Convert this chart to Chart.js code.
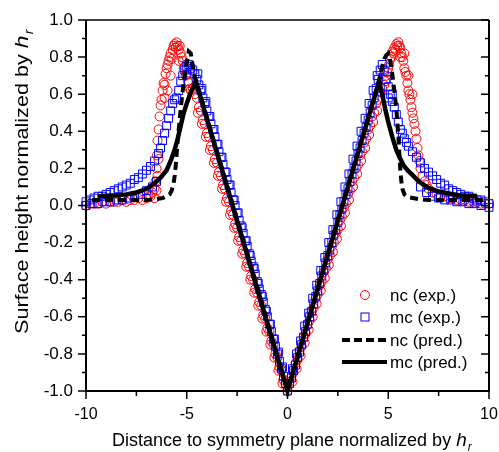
<!DOCTYPE html>
<html>
<head>
<meta charset="utf-8">
<script src="https://cdn.jsdelivr.net/npm/chart.js@4.4.1/dist/chart.umd.min.js"></script>
<style>
  html, body { margin: 0; padding: 0; background: #fff; }
  #wrap { width: 499px; height: 452px; }
</style>
</head>
<body>
<div id="wrap"><canvas id="chart"></canvas></div>
<script>
// axis ticks
const xTicks = [-10, -5, 0, 5, 10];
const yTicks = [-1.0, -0.8, -0.6, -0.4, -0.2, 0.0, 0.2, 0.4, 0.6, 0.8, 1.0];

// nc (exp.) - red circles, [x, y]
const ncExp = [
  [-10.0,0.00],[-9.8,0.01],[-9.6,0.01],[-9.4,0.01],[-9.2,0.02],[-9.0,0.01],[-8.8,0.02],[-8.6,0.02],[-8.4,0.02],[-8.2,0.03],
  [-8.0,0.02],[-7.8,0.03],[-7.6,0.03],[-7.4,0.04],[-7.2,0.03],[-7.0,0.04],[-6.9,0.05],[-6.8,0.05],[-6.7,0.07],[-6.6,0.09],
  [-6.6,0.04],[-6.55,0.13],[-6.5,0.08],[-6.5,0.20],[-6.48,0.27],[-6.45,0.16],[-6.45,0.35],[-6.4,0.25],[-6.4,0.41],[-6.35,0.48],
  [-6.3,0.54],[-6.25,0.57],[-6.2,0.62],[-6.15,0.66],[-6.1,0.58],[-6.1,0.65],[-6.05,0.71],[-6.0,0.74],[-5.95,0.76],[-5.95,0.62],
  [-5.9,0.78],[-5.85,0.80],[-5.8,0.82],[-5.8,0.70],[-5.75,0.79],[-5.7,0.84],[-5.65,0.86],[-5.6,0.87],[-5.55,0.85],[-5.5,0.88],
  [-5.45,0.86],[-5.4,0.84],[-5.4,0.78],[-5.35,0.86],[-5.3,0.82],[-5.25,0.80],[-5.2,0.78],[-5.15,0.74],[-5.1,0.75],[-5.05,0.70],
  [-5.0,0.71],[-4.95,0.67],[-4.9,0.66],[-4.85,0.63],[-4.8,0.62],
  [-4.7,0.63],[-4.6,0.60],[-4.5,0.58],[-4.4,0.53],[-4.3,0.51],[-4.2,0.46],[-4.1,0.44],[-4.0,0.39],[-3.9,0.37],[-3.8,0.32],
  [-3.7,0.30],[-3.6,0.25],[-3.5,0.23],[-3.4,0.18],[-3.3,0.16],[-3.2,0.11],[-3.1,0.09],[-3.0,0.04],[-2.9,0.02],[-2.8,-0.03],
  [-2.7,-0.05],[-2.6,-0.10],[-2.5,-0.12],[-2.4,-0.17],[-2.3,-0.19],[-2.2,-0.24],[-2.1,-0.26],[-2.0,-0.31],[-1.9,-0.33],[-1.8,-0.38],
  [-1.7,-0.40],[-1.6,-0.45],[-1.5,-0.47],[-1.4,-0.52],[-1.3,-0.54],[-1.2,-0.59],[-1.1,-0.61],[-1.0,-0.66],[-0.9,-0.68],[-0.8,-0.73],
  [-0.7,-0.75],[-0.6,-0.80],[-0.5,-0.82],[-0.4,-0.87],[-0.3,-0.89],[-0.2,-0.94],[-0.1,-0.96],[0.0,-1.00],
  [-4.45,0.50],[-4.25,0.44],[-4.05,0.37],[-3.85,0.30],[-3.65,0.23],[-3.45,0.16],[-3.25,0.09],[-3.05,0.02],[-2.85,-0.05],[-2.65,-0.12],
  [-2.45,-0.19],[-2.25,-0.26],[-2.05,-0.33],[-1.85,-0.40],[-1.65,-0.47],[-1.45,-0.54],[-1.25,-0.61],[-1.05,-0.68],[-0.85,-0.75],[-0.65,-0.82],
  [-0.45,-0.89],[-0.25,-0.96],
  [0.1,-0.95],[0.2,-0.92],[0.3,-0.90],[0.4,-0.85],[0.5,-0.83],[0.6,-0.78],[0.7,-0.76],[0.8,-0.71],[0.9,-0.69],[1.0,-0.64],
  [1.1,-0.62],[1.2,-0.57],[1.3,-0.55],[1.4,-0.50],[1.5,-0.48],[1.6,-0.43],[1.7,-0.41],[1.8,-0.36],[1.9,-0.34],[2.0,-0.29],
  [2.1,-0.27],[2.2,-0.22],[2.3,-0.20],[2.4,-0.15],[2.5,-0.13],[2.6,-0.08],[2.7,-0.06],[2.8,-0.01],[2.9,0.01],[3.0,0.06],
  [3.1,0.08],[3.2,0.13],[3.3,0.15],[3.4,0.20],[3.5,0.22],[3.6,0.27],[3.7,0.29],[3.8,0.34],[3.9,0.36],[4.0,0.41],
  [4.1,0.43],[4.2,0.48],[4.3,0.50],[4.4,0.55],[4.5,0.57],[4.6,0.61],[4.7,0.63],
  [0.25,-0.95],[0.45,-0.88],[0.65,-0.81],[0.85,-0.74],[1.05,-0.67],[1.25,-0.60],[1.45,-0.53],[1.65,-0.46],[1.85,-0.39],[2.05,-0.32],
  [2.25,-0.25],[2.45,-0.18],[2.65,-0.11],[2.85,-0.04],[3.05,0.03],[3.25,0.10],[3.45,0.17],[3.65,0.24],[3.85,0.31],[4.05,0.38],
  [4.25,0.45],[4.45,0.51],
  [4.8,0.65],[4.85,0.67],[4.9,0.70],[4.95,0.72],[5.0,0.74],[5.05,0.76],[5.1,0.79],[5.15,0.80],[5.2,0.83],[5.25,0.82],
  [5.3,0.85],[5.35,0.84],[5.4,0.87],[5.45,0.86],[5.5,0.88],[5.55,0.86],[5.6,0.85],[5.6,0.80],[5.65,0.82],[5.7,0.80],
  [5.75,0.78],[5.8,0.74],[5.8,0.82],[5.85,0.72],[5.9,0.70],[5.95,0.66],[6.0,0.62],[6.0,0.70],[6.05,0.60],[6.1,0.57],
  [6.15,0.53],[6.2,0.50],[6.2,0.60],[6.25,0.47],[6.3,0.44],[6.35,0.40],[6.4,0.36],[6.45,0.31],[6.5,0.27],[6.55,0.24],
  [6.6,0.20],[6.7,0.16],[6.8,0.13],[6.9,0.11],[7.0,0.09],
  [7.2,0.07],[7.4,0.06],[7.6,0.05],[7.8,0.05],[8.0,0.04],[8.2,0.04],[8.4,0.03],[8.6,0.03],[8.8,0.03],[9.0,0.02],
  [9.2,0.02],[9.4,0.02],[9.6,0.01],[9.8,0.01],[10.0,0.01]
];

// mc (exp.) - blue squares, [x, y]
const mcExp = [
  [-10.0,0.00],[-9.7,0.01],[-9.4,0.01],[-9.1,0.02],[-8.8,0.02],[-8.5,0.03],[-8.2,0.03],[-7.9,0.04],[-7.6,0.05],[-7.3,0.06],
  [-7.0,0.08],[-6.7,0.10],[-6.5,0.13],
  [-10.0,0.02],[-9.8,0.03],[-9.6,0.04],[-9.4,0.05],[-9.2,0.05],[-9.0,0.06],[-8.8,0.07],[-8.6,0.08],[-8.4,0.09],[-8.2,0.10],
  [-8.0,0.11],[-7.8,0.12],[-7.6,0.14],[-7.4,0.15],[-7.2,0.17],[-7.0,0.19],[-6.8,0.21],[-6.6,0.24],[-6.4,0.28],[-6.3,0.31],
  [-6.2,0.35],[-6.1,0.39],[-6.0,0.43],[-5.9,0.47],[-5.8,0.51],[-5.7,0.55],[-5.6,0.57],[-5.5,0.58],[-5.4,0.62],[-5.3,0.67],
  [-5.2,0.70],[-5.1,0.73],[-5.0,0.75],[-4.9,0.76],[-4.8,0.74],
  [-4.7,0.73],[-4.6,0.71],[-4.5,0.68],[-4.4,0.65],[-4.3,0.62],[-4.2,0.58],[-4.1,0.55],[-4.0,0.51],[-3.9,0.48],[-3.8,0.44],
  [-3.7,0.41],[-3.6,0.37],[-3.5,0.33],[-3.4,0.29],[-3.3,0.26],[-3.2,0.22],[-3.1,0.18],[-3.0,0.14],[-2.9,0.11],[-2.8,0.07],
  [-2.7,0.03],[-2.6,0.00],[-2.5,-0.04],[-2.4,-0.08],[-2.3,-0.11],[-2.2,-0.15],[-2.1,-0.19],[-2.0,-0.22],[-1.9,-0.26],[-1.8,-0.30],
  [-1.7,-0.33],[-1.6,-0.37],[-1.5,-0.41],[-1.4,-0.45],[-1.3,-0.48],[-1.2,-0.52],[-1.1,-0.56],[-1.0,-0.60],[-0.9,-0.64],[-0.8,-0.68],
  [-0.7,-0.72],[-0.6,-0.76],[-0.5,-0.80],[-0.4,-0.84],[-0.3,-0.88],[-0.2,-0.92],[-0.1,-0.96],[0.0,-1.00],
  [-4.45,0.71],[-4.25,0.63],[-4.05,0.56],[-3.85,0.48],[-3.65,0.41],[-3.45,0.33],[-3.25,0.26],[-3.05,0.18],[-2.85,0.11],[-2.65,0.03],
  [-2.45,-0.04],[-2.25,-0.12],[-2.05,-0.19],[-1.85,-0.27],[-1.65,-0.34],[-1.45,-0.42],[-1.25,-0.49],[-1.05,-0.57],[-0.85,-0.64],[-0.65,-0.72],
  [-0.45,-0.79],[-0.25,-0.87],
  [0.1,-0.96],[0.2,-0.93],[0.3,-0.89],[0.4,-0.86],[0.5,-0.82],[0.6,-0.79],[0.7,-0.75],[0.8,-0.71],[0.9,-0.68],[1.0,-0.64],
  [1.1,-0.60],[1.2,-0.57],[1.3,-0.53],[1.4,-0.49],[1.5,-0.46],[1.6,-0.42],[1.7,-0.38],[1.8,-0.35],[1.9,-0.31],[2.0,-0.27],
  [2.1,-0.24],[2.2,-0.20],[2.3,-0.16],[2.4,-0.13],[2.5,-0.09],[2.6,-0.05],[2.7,-0.02],[2.8,0.02],[2.9,0.06],[3.0,0.09],
  [3.1,0.13],[3.2,0.17],[3.3,0.20],[3.4,0.24],[3.5,0.28],[3.6,0.31],[3.7,0.35],[3.8,0.39],[3.9,0.42],[4.0,0.46],
  [4.1,0.50],[4.2,0.54],[4.3,0.58],[4.4,0.63],[4.5,0.68],[4.6,0.73],[4.7,0.76],
  [0.25,-0.88],[0.45,-0.80],[0.65,-0.73],[0.85,-0.65],[1.05,-0.58],[1.25,-0.50],[1.45,-0.43],[1.65,-0.35],[1.85,-0.28],[2.05,-0.20],
  [2.25,-0.13],[2.45,-0.05],[2.65,0.02],[2.85,0.10],[3.05,0.17],[3.25,0.25],[3.45,0.32],[3.65,0.40],[3.85,0.47],[4.05,0.55],
  [4.25,0.62],[4.45,0.70],
  [4.8,0.73],[4.9,0.68],[5.0,0.64],[5.0,0.58],[5.1,0.60],[5.2,0.56],[5.2,0.60],[5.3,0.53],[5.4,0.49],[5.5,0.45],
  [5.6,0.41],[5.7,0.39],[5.8,0.36],[5.9,0.34],[6.0,0.32],[6.2,0.29],[6.4,0.26],[6.6,0.23],[6.8,0.20],[7.0,0.18],
  [7.2,0.16],[7.4,0.14],[7.6,0.12],[7.8,0.11],[8.0,0.09],[8.2,0.08],[8.4,0.07],[8.6,0.06],[8.8,0.05],[9.0,0.05],
  [9.2,0.04],[9.4,0.03],[9.6,0.03],[9.8,0.02],[10.0,0.01],
  [6.6,0.10],[6.9,0.07],[7.2,0.05],[7.5,0.04],[7.8,0.03],[8.1,0.03],[8.4,0.02],[8.7,0.02],[9.0,0.01],[9.3,0.01],
  [9.6,0.00],[10.0,-0.01]
];

// nc (pred.) - dashed line
const ncPredX = [-9.7, -9.0, -8.0, -7.0, -6.5, -6.2, -6.0, -5.85, -5.75, -5.65, -5.6, -5.55, -5.5, -5.45, -5.4, -5.3, -5.2, -5.1, -5.0, -4.9,
  -4.8, -4.7, -4.6, -4.5, 0.0, 4.5, 4.6, 4.7, 4.8, 4.9, 5.0, 5.1, 5.2, 5.3, 5.4, 5.5, 5.55, 5.6, 5.65, 5.7,
  5.8, 6.0, 6.5, 7.0, 8.0, 9.0, 9.7];
const ncPredY = [0.03, 0.03, 0.03, 0.03, 0.035, 0.04, 0.05, 0.06, 0.08, 0.12, 0.16, 0.21, 0.28, 0.35, 0.41, 0.52, 0.62, 0.70, 0.77, 0.83,
  0.82, 0.75, 0.69, 0.66, -1.0, 0.66, 0.70, 0.75, 0.79, 0.81, 0.82, 0.78, 0.71, 0.62, 0.52, 0.38, 0.28, 0.19, 0.13, 0.09,
  0.06, 0.045, 0.035, 0.03, 0.03, 0.03, 0.03];

// mc (pred.) - solid line
const mcPredX = [-9.4, -8.5, -8.0, -7.5, -7.0, -6.6, -6.3, -6.0, -5.8, -5.6, -5.45, -5.3, -5.15, -5.0, -4.8, -4.55, 0.0,
  4.55, 4.7, 4.85, 5.0, 5.2, 5.4, 5.6, 5.8, 6.0, 6.2, 6.5, 7.0, 7.5, 8.0, 8.5, 9.4];
const mcPredY = [0.05, 0.055, 0.06, 0.07, 0.09, 0.12, 0.15, 0.19, 0.24, 0.30, 0.36, 0.43, 0.50, 0.55, 0.61, 0.67, -1.0,
  0.67, 0.60, 0.52, 0.45, 0.37, 0.30, 0.25, 0.21, 0.185, 0.165, 0.13, 0.095, 0.075, 0.065, 0.055, 0.05];

const FONT = "'Liberation Sans', Arial, Helvetica, sans-serif";

const toXY = (xs, ys) => xs.map((x, i) => ({ x: x, y: ys[i] }));
const pairs = arr => arr.map(p => ({ x: p[0], y: p[1] }));

// axis frame, tick marks, axis titles and legend
const framePlugin = {
  id: 'frame',
  afterDraw(chart) {
    const ctx = chart.ctx;
    const a = chart.chartArea;
    const xs = chart.scales.x;
    const ys = chart.scales.y;
    ctx.save();
    ctx.strokeStyle = '#000';
    ctx.lineCap = 'butt';

    // box
    ctx.lineWidth = 1.5;
    ctx.beginPath();
    ctx.moveTo(a.left, a.top);
    ctx.lineTo(a.right, a.top);
    ctx.stroke();
    ctx.lineWidth = 2;
    ctx.beginPath();
    ctx.moveTo(a.left, a.top);
    ctx.lineTo(a.left, a.bottom);
    ctx.lineTo(a.right, a.bottom);
    ctx.lineTo(a.right, a.top);
    ctx.stroke();

    // y ticks: outward on left, inward on right
    ctx.lineWidth = 1.5;
    for (let i = 0; i <= 20; i++) {
      const v = -1 + i * 0.1;
      const py = ys.getPixelForValue(v);
      const len = i % 2 === 0 ? 8 : 4;
      ctx.beginPath();
      ctx.moveTo(a.left - len, py);
      ctx.lineTo(a.left, py);
      ctx.moveTo(a.right - len, py);
      ctx.lineTo(a.right, py);
      ctx.stroke();
    }
    // x ticks: outward on bottom
    for (let i = 0; i <= 8; i++) {
      const v = -10 + i * 2.5;
      const px = xs.getPixelForValue(v);
      const len = i % 2 === 0 ? 8 : 5;
      ctx.beginPath();
      ctx.moveTo(px, a.bottom);
      ctx.lineTo(px, a.bottom + len);
      ctx.stroke();
    }

    // axis titles
    ctx.fillStyle = '#000';
    ctx.textBaseline = 'alphabetic';
    ctx.textAlign = 'left';
    const drawTitle = (text, x0, y0) => {
      ctx.font = '18px ' + FONT;
      ctx.fillText(text, x0, y0);
      let w = ctx.measureText(text).width;
      ctx.font = 'italic 19px ' + FONT;
      ctx.fillText('h', x0 + w, y0);
      w += ctx.measureText('h').width + 1;
      ctx.font = 'italic 12px ' + FONT;
      ctx.fillText('r', x0 + w, y0 + 5);
    };
    drawTitle('Distance to symmetry plane normalized by ', 112, 446);
    ctx.save();
    ctx.translate(28, 334);
    ctx.rotate(-Math.PI / 2);
    ctx.scale(1.2, 1);
    drawTitle('Surface height normalized by ', 0, 0);
    ctx.restore();

    // legend
    const lx = 342, tx = 390;
    const rows = [295, 317, 340, 362];
    ctx.font = '17px ' + FONT;
    ctx.textBaseline = 'middle';
    ['nc (exp.)', 'mc (exp.)', 'nc (pred.)', 'mc (pred.)'].forEach((t, i) => {
      ctx.fillText(t, tx, rows[i] + 1);
    });
    ctx.lineWidth = 1;
    ctx.strokeStyle = '#ff0000';
    ctx.beginPath();
    ctx.arc(365, rows[0], 4.5, 0, Math.PI * 2);
    ctx.stroke();
    ctx.strokeStyle = '#0000ff';
    ctx.strokeRect(361, rows[1] - 4, 8, 8);
    ctx.strokeStyle = '#000';
    ctx.lineWidth = 4;
    ctx.setLineDash([8, 4]);
    ctx.beginPath();
    ctx.moveTo(lx, rows[2]);
    ctx.lineTo(387, rows[2]);
    ctx.stroke();
    ctx.setLineDash([]);
    ctx.beginPath();
    ctx.moveTo(lx, rows[3]);
    ctx.lineTo(387, rows[3]);
    ctx.stroke();
    ctx.restore();
  }
};

new Chart(document.getElementById('chart'), {
  type: 'scatter',
  data: {
    datasets: [
      {
        label: 'mc (pred.)',
        data: toXY(mcPredX, mcPredY),
        showLine: true,
        borderColor: '#000',
        borderWidth: 4.5,
        pointRadius: 0,
        tension: 0,
        order: 0
      },
      {
        label: 'nc (pred.)',
        data: toXY(ncPredX, ncPredY),
        showLine: true,
        borderColor: '#000',
        borderWidth: 4,
        borderDash: [8, 5],
        pointRadius: 0,
        tension: 0,
        order: 1
      },
      {
        label: 'mc (exp.)',
        data: pairs(mcExp),
        pointStyle: 'rect',
        pointRadius: 5.6,
        borderColor: '#0000ff',
        backgroundColor: 'rgba(0,0,0,0)',
        borderWidth: 1,
        order: 2
      },
      {
        label: 'nc (exp.)',
        data: pairs(ncExp),
        pointStyle: 'circle',
        pointRadius: 4.5,
        borderColor: '#ff0000',
        backgroundColor: 'rgba(0,0,0,0)',
        borderWidth: 1,
        order: 3
      }
    ]
  },
  options: {
    responsive: true,
    maintainAspectRatio: false,
    animation: false,
    clip: false,
    layout: { padding: { left: 0, right: 10, top: 20, bottom: 0 } },
    plugins: {
      legend: { display: false },
      tooltip: { enabled: false }
    },
    scales: {
      x: {
        type: 'linear',
        min: -10,
        max: 10,
        afterFit: s => { s.height = 61; s.paddingLeft = 0; s.paddingRight = 0; },
        afterBuildTicks: s => { s.ticks = xTicks.map(v => ({ value: v })); },
        grid: { display: false, drawTicks: false },
        border: { display: false },
        ticks: {
          color: '#000',
          font: { family: FONT, size: 16 },
          padding: 14,
          maxRotation: 0,
          callback: v => String(v)
        }
      },
      y: {
        type: 'linear',
        min: -1,
        max: 1,
        afterFit: s => { s.width = 86; s.paddingTop = 0; s.paddingBottom = 0; },
        afterBuildTicks: s => { s.ticks = yTicks.map(v => ({ value: v })); },
        grid: { display: false, drawTicks: false },
        border: { display: false },
        ticks: {
          color: '#000',
          font: { family: FONT, size: 17 },
          padding: 13,
          callback: v => (Math.abs(v) < 1e-9 ? 0 : v).toFixed(1)
        }
      }
    }
  },
  plugins: [framePlugin]
});
</script>
</body>
</html>
